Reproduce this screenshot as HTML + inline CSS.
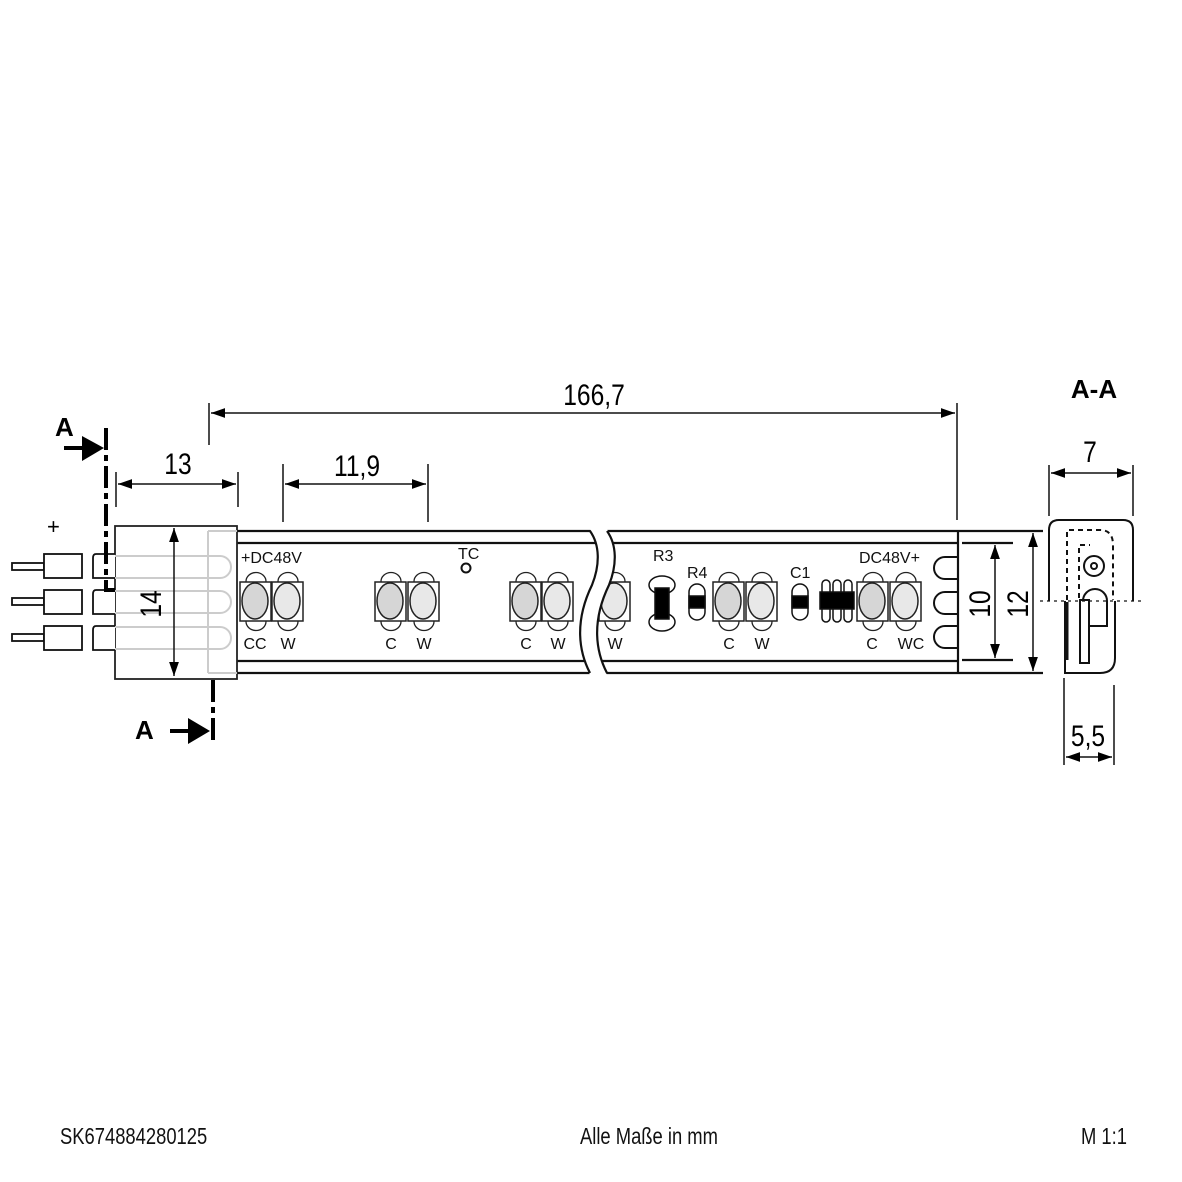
<!DOCTYPE html>
<html><head><meta charset="utf-8"><style>
html,body{margin:0;padding:0;background:#fff}
svg{display:block}
text{font-family:"Liberation Sans",sans-serif}
</style></head><body>
<svg width="1182" height="1182" viewBox="0 0 1182 1182" xmlns="http://www.w3.org/2000/svg">
<defs>
<marker id="ar" viewBox="0 0 10 10" refX="10" refY="5" markerWidth="14" markerHeight="14" markerUnits="userSpaceOnUse" orient="auto-start-reverse"><path d="M0,1.5 L10,5 L0,8.5 Z" fill="#000"/></marker>
<g id="led">
<path d="M6,-0.5 a10,9 0 0 1 20,0" fill="#fff" stroke="#222" stroke-width="1.3"/>
<path d="M6,39.5 a10,9 0 0 0 20,0" fill="#fff" stroke="#222" stroke-width="1.3"/>
<rect x="0" y="0" width="31" height="39" fill="#fff" stroke="#222" stroke-width="1.5"/>
</g>
</defs>
<rect width="1182" height="1182" fill="#fff"/>

<!-- strip -->
<g fill="none" stroke="#111" stroke-width="2.2">
<path d="M237,531 H1043 M237,673 H1043"/>
<path d="M237,543 H958 M237,661 H958"/>
<path d="M958,531 V673"/>
<path d="M962,543 H1013 M962,660 H1013"/>
</g>
<!-- right end U loops -->
<g fill="none" stroke="#111" stroke-width="2">
<path d="M958,557 H945 a10,10 0 0 0 0,22 H958"/>
<path d="M958,592 H945 a10,10 0 0 0 0,22 H958"/>
<path d="M958,626 H945 a10,10 0 0 0 0,22 H958"/>
</g>

<!-- connector -->
<rect x="115" y="526" width="122" height="153" fill="#fff" stroke="#222" stroke-width="1.8"/>
<g fill="none" stroke="#ccc" stroke-width="2">
<path d="M208,531 V673 M208,531 H237 M208,673 H237"/>
<path d="M115,556 H220 a11,11 0 0 1 0,22 H115"/>
<path d="M115,591 H220 a11,11 0 0 1 0,22 H115"/>
<path d="M115,627 H220 a11,11 0 0 1 0,22 H115"/>
</g>
<!-- pins -->
<g fill="#fff" stroke="#111" stroke-width="1.8">
<rect x="12" y="563" width="32" height="7"/><rect x="44" y="554" width="38" height="24"/>
<rect x="12" y="598" width="32" height="7"/><rect x="44" y="590" width="38" height="24"/>
<rect x="12" y="634" width="32" height="7"/><rect x="44" y="626" width="38" height="24"/>
<path d="M115,554 H96 q-3,0 -3,4 V578 H115"/>
<path d="M115,590 H96 q-3,0 -3,4 V614 H115"/>
<path d="M115,626 H96 q-3,0 -3,4 V650 H115"/>
</g>
<text x="47" y="534" font-size="22">+</text>

<!-- section line A -->
<g stroke="#000" stroke-width="4" fill="none">
<path d="M106,428 V590 H115" stroke-dasharray="22,5,6,5"/>
<path d="M213,680 V745" stroke-dasharray="22,5,6,5"/>
<path d="M64,448 H90 M170,731 H196"/>
</g>
<path d="M82,436 L104,448 L82,461 Z M188,718 L210,731 L188,744 Z" fill="#000"/>
<text x="55" y="436" font-size="26" font-weight="bold">A</text>
<text x="135" y="739" font-size="26" font-weight="bold">A</text>

<!-- dimensions -->
<g stroke="#111" stroke-width="1.5" fill="none">
<path d="M209,403 V445 M957,403 V520"/>
<path d="M211,413 H955" marker-start="url(#ar)" marker-end="url(#ar)"/>
<path d="M116,472 V507 M238,472 V507"/>
<path d="M118,484 H236" marker-start="url(#ar)" marker-end="url(#ar)"/>
<path d="M283,464 V522 M428,464 V522"/>
<path d="M285,484 H426" marker-start="url(#ar)" marker-end="url(#ar)"/>
<path d="M174,528 V676" marker-start="url(#ar)" marker-end="url(#ar)"/>
<path d="M995,545 V658" marker-start="url(#ar)" marker-end="url(#ar)"/>
<path d="M1033,533 V671" marker-start="url(#ar)" marker-end="url(#ar)"/>
<path d="M1049,465 V516 M1133,465 V516"/>
<path d="M1051,473 H1131" marker-start="url(#ar)" marker-end="url(#ar)"/>
<path d="M1064,678 V765 M1114,685 V765"/>
<path d="M1066,757 H1112" marker-start="url(#ar)" marker-end="url(#ar)"/>
</g>
<g font-size="30" text-anchor="middle">
<text x="594" y="405" transform="translate(594 0) scale(0.82 1) translate(-594 0)">166,7</text>
<text x="178" y="474" transform="translate(178 0) scale(0.82 1) translate(-178 0)">13</text>
<text x="357" y="476" transform="translate(357 0) scale(0.82 1) translate(-357 0)">11,9</text>
<text x="1090" y="462" transform="translate(1090 0) scale(0.82 1) translate(-1090 0)">7</text>
<text x="1088" y="746" transform="translate(1088 0) scale(0.82 1) translate(-1088 0)">5,5</text>
<text transform="translate(161,604) rotate(-90) scale(0.82 1)" text-anchor="middle">14</text>
<text transform="translate(990,604) rotate(-90) scale(0.82 1)" text-anchor="middle">10</text>
<text transform="translate(1028,604) rotate(-90) scale(0.82 1)" text-anchor="middle">12</text>
</g>
<text x="1094" y="398" font-size="26" font-weight="bold" text-anchor="middle">A-A</text>

<!-- LEDs -->
<g>
<use href="#led" x="240" y="582"/><use href="#led" x="272" y="582"/>
<use href="#led" x="375" y="582"/><use href="#led" x="408" y="582"/>
<use href="#led" x="510" y="582"/><use href="#led" x="542" y="582"/>
<use href="#led" x="599" y="582"/>
<use href="#led" x="713" y="582"/><use href="#led" x="746" y="582"/>
<use href="#led" x="857" y="582"/><use href="#led" x="890" y="582"/>
</g>
<g stroke="#222" stroke-width="1.5">
<ellipse cx="255" cy="601" rx="13" ry="18" fill="#d6d6d6"/><ellipse cx="287" cy="601" rx="13" ry="18" fill="#e8e8e8"/>
<ellipse cx="390" cy="601" rx="13" ry="18" fill="#d6d6d6"/><ellipse cx="423" cy="601" rx="13" ry="18" fill="#e8e8e8"/>
<ellipse cx="525" cy="601" rx="13" ry="18" fill="#d6d6d6"/><ellipse cx="557" cy="601" rx="13" ry="18" fill="#e8e8e8"/>
<ellipse cx="614" cy="601" rx="13" ry="18" fill="#e8e8e8"/>
<ellipse cx="728" cy="601" rx="13" ry="18" fill="#d6d6d6"/><ellipse cx="761" cy="601" rx="13" ry="18" fill="#e8e8e8"/>
<ellipse cx="872" cy="601" rx="13" ry="18" fill="#d6d6d6"/><ellipse cx="905" cy="601" rx="13" ry="18" fill="#e8e8e8"/>
</g>
<!-- break gap -->
<path d="M590,529 C600,545 600,565 592,585 C575,620 578,650 590,675 H607 C595,650 592,620 609,585 C617,565 617,545 607,529 Z" fill="#fff" stroke="none"/>
<path d="M590,531 C600,545 600,565 592,585 C575,620 578,650 590,673 M607,531 C617,545 617,565 609,585 C592,620 595,650 607,673" fill="none" stroke="#111" stroke-width="2.2"/>

<!-- components -->
<g stroke="#111" stroke-width="1.5">
<ellipse cx="662" cy="585" rx="13" ry="9" fill="#fff"/><ellipse cx="662" cy="622" rx="13" ry="9" fill="#fff"/>
<rect x="655" y="588" width="14" height="31" fill="#000"/>
<rect x="689" y="584" width="16" height="36" rx="8" fill="#fff"/>
<rect x="689" y="596" width="16" height="12" fill="#000"/>
<rect x="792" y="584" width="16" height="36" rx="8" fill="#fff"/>
<rect x="792" y="596" width="16" height="12" fill="#000"/>
<rect x="822" y="580" width="8" height="42" rx="4" fill="#fff"/>
<rect x="833" y="580" width="8" height="42" rx="4" fill="#fff"/>
<rect x="844" y="580" width="8" height="42" rx="4" fill="#fff"/>
<rect x="820" y="592" width="34" height="17" fill="#000"/>
<circle cx="466" cy="568" r="4.5" fill="#fff" stroke-width="2"/>
</g>
<g font-size="16" fill="#111">
<text x="241" y="563">+DC48V</text>
<text x="859" y="563">DC48V+</text>
<text x="458" y="559">TC</text>
<text x="653" y="561">R3</text>
<text x="687" y="578">R4</text>
<text x="790" y="578">C1</text>
<g text-anchor="middle">
<text x="255" y="649">CC</text><text x="288" y="649">W</text>
<text x="391" y="649">C</text><text x="424" y="649">W</text>
<text x="526" y="649">C</text><text x="558" y="649">W</text>
<text x="615" y="649">W</text>
<text x="729" y="649">C</text><text x="762" y="649">W</text>
<text x="872" y="649">C</text><text x="911" y="649">WC</text>
</g>
</g>

<!-- section A-A -->
<g fill="none" stroke="#111" stroke-width="2">
<path d="M1049,601 V530 q0,-10 10,-10 H1123 q10,0 10,10 V601"/>
<path d="M1065,601 V673 H1100 q15,0 15,-15 V601"/>
<rect x="1080" y="600" width="9" height="63"/>
<circle cx="1094" cy="566" r="10"/><circle cx="1094" cy="566" r="3"/>
<path d="M1083,601 a12,12 0 0 1 24,0 V626 H1089"/>
<path d="M1067,660 V602" stroke-width="3"/>
</g>
<g fill="none" stroke="#111" stroke-width="2" stroke-dasharray="5,4">
<path d="M1067,600 V530 H1100 q13,0 13,15 V600"/>
<path d="M1079,598 V545 H1090"/>
<path d="M1040,601 H1145" stroke-width="1.2" stroke-dasharray="3,4"/>
</g>

<!-- footer -->
<g font-size="23" fill="#111">
<text x="60" y="1144" transform="translate(60 0) scale(0.8 1) translate(-60 0)">SK674884280125</text>
<text x="580" y="1144" transform="translate(580 0) scale(0.8 1) translate(-580 0)">Alle Maße in mm</text>
<text x="1081" y="1144" transform="translate(1081 0) scale(0.8 1) translate(-1081 0)">M 1:1</text>
</g>
</svg>
</body></html>
